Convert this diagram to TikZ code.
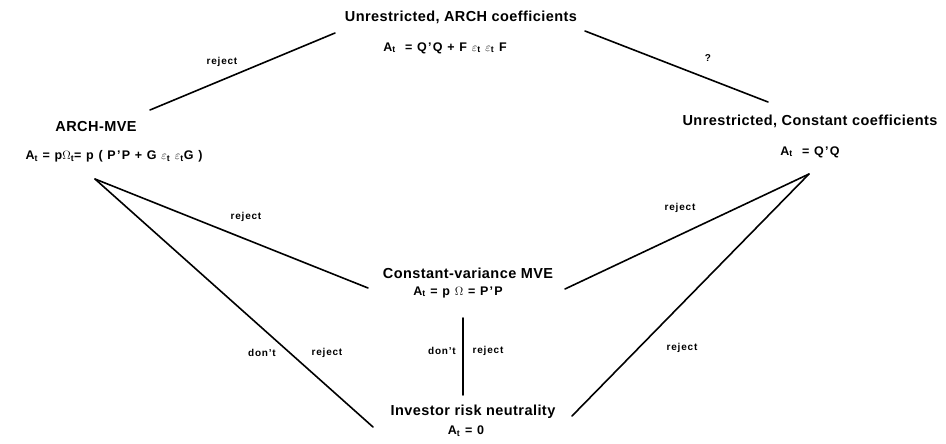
\documentclass[tikz,border=0pt]{standalone}
\usepackage{fontspec}
\setmainfont{Liberation Sans}
\newcommand{\sbt}{\textsubscript{t}}
\newcommand{\eps}{$\varepsilon$}
\begin{document}
\begin{tikzpicture}[x=1pt,y=-1pt,
  ttl/.style={font=\fontsize{14.5}{16}\selectfont\bfseries\addfontfeatures{LetterSpace=3}, inner sep=0pt},
  frm/.style={font=\fontsize{12.5}{14}\selectfont\bfseries\addfontfeatures{LetterSpace=10}, inner sep=0pt},
  lab/.style={font=\fontsize{10}{12}\selectfont\bfseries\addfontfeatures{LetterSpace=8}, inner sep=0pt},
  edge/.style={line width=1.6pt, line cap=round}]
\useasboundingbox (0,0) rectangle (946,444);
% titles
\node[ttl] (t1) at (461,17) {Unrestricted, ARCH coefficients};
\node[frm] (f1) at (445,48) {A\sbt\ \ = Q'Q + F \eps\sbt\ \eps\sbt\ F};
\node[ttl] (t2) at (96,127) {ARCH-MVE};
\node[frm] (f2) at (114,156) {A\sbt\ = p$\Omega$\sbt = p ( P'P + G \eps\sbt\ \eps\sbt G )};
\node[ttl] (t3) at (810,121) {Unrestricted, Constant coefficients};
\node[frm] (f3) at (810,152) {A\sbt\ \ = Q'Q};
\node[ttl] (t4) at (468,273) {Constant-variance MVE};
\node[frm] (f4) at (458,292) {A\sbt\ = p $\Omega$ = P'P};
\node[ttl] (t5) at (473,412) {Investor risk neutrality};
\node[frm] (f5) at (466,431) {A\sbt\ = 0};
% endpoints
\coordinate (a1) at (150,110);
\coordinate (a2) at (335,33);
\coordinate (b1) at (585,31);
\coordinate (b2) at (768,102);
\coordinate (m) at (95,179);
\coordinate (c1) at (368,288);
\coordinate (c2) at (373,427);
\coordinate (r) at (809,174);
\coordinate (c3) at (565,289);
\coordinate (c4) at (572,416);
\coordinate (v1) at (463,318);
\coordinate (v2) at (463,395);
% connectors
\draw[edge] (a1) -- (a2);
\draw[edge] (b1) -- (b2);
\draw[edge] (m) -- (c1);
\draw[edge] (m) -- (c2);
\draw[edge] (r) -- (c3);
\draw[edge] (r) -- (c4);
\draw[edge] (v1) -- (v2);
% labels
\node[lab] (l1) at (222,62) {reject};
\node[lab] (l2) at (708,58) {?};
\node[lab] (l3) at (246,217) {reject};
\node[lab] (l4) at (680,208) {reject};
\node[lab] (l5) at (262,353) {don't};
\node[lab] (l6) at (327,353) {reject};
\node[lab] (l7) at (442,351) {don't};
\node[lab] (l8) at (488,351) {reject};
\node[lab] (l9) at (682,348) {reject};
\end{tikzpicture}
\end{document}
